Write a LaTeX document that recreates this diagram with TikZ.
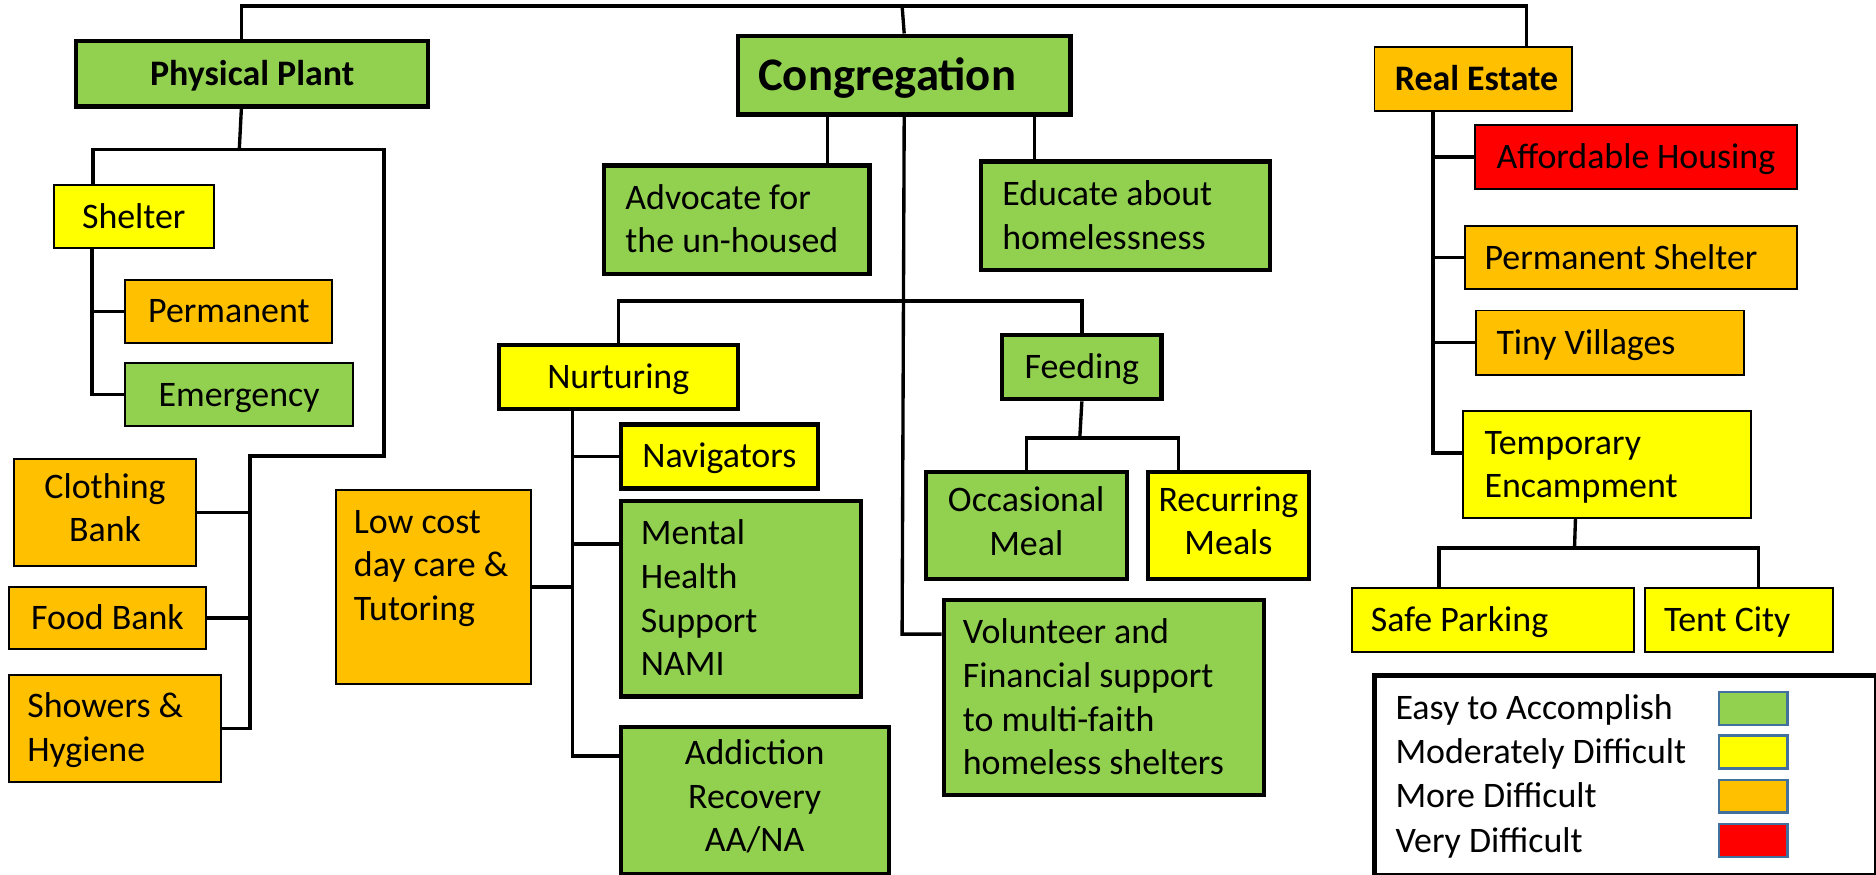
\documentclass[tikz,border=0pt]{standalone}
\usepackage{fontspec}
\setmainfont{Carlito}
\usetikzlibrary{calc}

\definecolor{easy}{HTML}{92D050}
\definecolor{moderate}{HTML}{FFFF00}
\definecolor{harder}{HTML}{FFC000}
\definecolor{hardest}{HTML}{FF0000}
\definecolor{swatch}{HTML}{41719C}

\newcommand{\tstrut}{\rule[-0.267em]{0pt}{1.177em}}

\begin{document}
\begin{tikzpicture}[
        x=1pt, y=-1pt, line width=2.8pt,
        box/.style={draw, anchor=north west, inner sep=0pt, line width=1.6pt,
            font=\fontsize{30}{36.5}\selectfont, align=center,
            execute at begin node=\tstrut},
        heavy/.style={line width=3.5pt},
        title/.style={font=\fontsize{30}{36.5}\selectfont\bfseries},
        wh/.style n args={2}{minimum width=#1pt, minimum height=#2pt},
        lefttext/.style n args={2}{align=flush left, inner xsep=#1pt, text width=#2pt},
    ]

    \useasboundingbox (0,0) rectangle (1568,731);

    \node[box, heavy, title, fill=easy, wh={294}{54.6}] (pp) at (62,32.6) {Physical Plant};
    \node[box, heavy, fill=easy, wh={278}{66}, lefttext={17}{244},
          font=\fontsize{39}{47}\selectfont\bfseries] (cong) at (615,28) {Congregation};
    \node[box, title, fill=harder, wh={165}{53}, lefttext={17}{131}] (re) at (1148,38.7) {\mbox{Real Estate}};

    \node[box, fill=moderate, wh={134}{52.7}] (shelter) at (44,153.8) {Shelter};
    \node[box, fill=harder, wh={173}{52.8}] (perm) at (104,233) {Permanent};
    \node[box, fill=easy, wh={190}{52.6}] (emerg) at (104,302.6) {Emergency};
    \node[box, fill=harder, wh={152}{89}] (clothing) at (11,383) {Clothing\\Bank\tstrut};
    \node[box, fill=harder, wh={164}{52.2}] (food) at (7,489.5) {Food Bank};
    \node[box, fill=harder, wh={177}{89.7}, lefttext={15}{147}] (showers) at (7,563) {Showers~\&\\Hygiene\tstrut};
    \node[box, fill=harder, wh={163}{162.2}, lefttext={15}{133}] (lowcost) at (280,408.8) {Low~cost\\day~care~\&\\Tutoring\\\tstrut};

    \node[box, heavy, fill=easy, wh={222}{90.4}, lefttext={18}{186}] (advocate) at (503,136.6) {Advocate~for\\the~un-housed\tstrut};
    \node[box, heavy, fill=easy, wh={242}{90.5}, lefttext={18}{206}] (educate) at (818,133.3) {Educate~about\\homelessness\tstrut};
    \node[box, heavy, fill=moderate, wh={200}{53.6}] (nurt) at (415,286.7) {Nurturing};
    \node[box, heavy, fill=easy, wh={133}{53.7}] (feed) at (836,278.3) {Feeding};
    \node[box, heavy, fill=easy, wh={168}{90}] (occasional) at (772,392.5) {Occasional\\Meal\tstrut};
    \node[box, heavy, fill=moderate, wh={134}{90}] (recurring) at (958,392.5) {Recurring\\Meals\tstrut};
    \node[box, heavy, fill=easy, wh={268}{163}, lefttext={16}{236}] (volunteer) at (787,500)
        {Volunteer~and\\Financial~support\\to~multi-faith\\homeless~shelters\tstrut};
    \node[box, heavy, fill=moderate, wh={165}{53.5}] (nav) at (517,353) {Navigators};
    \node[box, heavy, fill=easy, wh={201}{163.6}, lefttext={17}{167}] (mental) at (517,416.8) {Mental\\Health\\Support\\NAMI\tstrut};
    \node[box, heavy, fill=easy, wh={224}{122.5}] (addiction) at (517,606) {Addiction\\Recovery\\AA/NA\tstrut};

    \node[box, fill=hardest, wh={269}{53}, lefttext={18}{233}] (afford) at (1232,104) {Affordable~Housing};
    \node[box, fill=harder, wh={277}{53}, lefttext={16}{245}] (permshelter) at (1224,188) {Permanent~Shelter};
    \node[box, fill=harder, wh={224}{53.6}, lefttext={17}{190}] (tiny) at (1233,258.7) {Tiny~Villages};
    \node[box, fill=moderate, wh={241}{89.3}, lefttext={18}{205}] (temp) at (1222,342.7) {Temporary\\Encampment\tstrut};
    \node[box, fill=moderate, wh={236}{53.6}, lefttext={16}{204}] (safe) at (1129,490.4) {Safe~Parking};
    \node[box, fill=moderate, wh={157}{53.6}, lefttext={16}{125}] (tent) at (1374,490.4) {Tent~City};

    \node[draw, line width=4pt, anchor=north west, inner sep=0pt, wh={419}{167.3}] (legend) at (1147,562.7) {};
    \foreach \txt/\col/\y in {Easy to Accomplish/easy/592, Moderately Difficult/moderate/628.5,
                              More Difficult/harder/665.5, Very Difficult/hardest/702.5} {
        \node[anchor=west, inner sep=0pt, font=\fontsize{30}{36.5}\selectfont,
              execute at begin node=\tstrut] (key-\col) at (1165,\y) {\txt};
        \node[draw=swatch, line width=2pt, fill=\col, inner sep=0pt, wh={57}{27.5}] (swatch-\col) at (1465.5,\y) {};
    }

    \coordinate (rail) at (754,5);
    \draw ([xshift=-9pt]pp.north) |- (rail) -| ([xshift=44.5pt]re.north);
    \draw (rail) -- (cong.north);

    \coordinate (ppfork) at (200,125);
    \coordinate (ppcorner) at (321,125);
    \coordinate (ppstep) at (321,381);
    \coordinate (pptrunk) at (209,381);
    \draw ([xshift=-9pt]pp.south) -- (ppfork);
    \draw ([xshift=-34pt]shelter.north) |- (ppcorner) -- (ppstep) -- (pptrunk) |- (showers.east);
    \draw (clothing.east) -- (clothing.east -| pptrunk);
    \draw (food.east) -- (food.east -| pptrunk);

    \coordinate (shelterrail) at ([xshift=-35pt]shelter.south);
    \draw (shelterrail) |- (emerg.west);
    \draw (perm.west) -- (perm.west -| shelterrail);

    \draw ([xshift=-64pt]cong.south) -- ([xshift=76pt]advocate.north);
    \draw ([xshift=109pt]cong.south) -- ([xshift=-76pt]educate.north);
    \coordinate (carefork) at (754,251.7);
    \coordinate (volbend) at (754,530);
    \draw (cong.south) -- (volbend) -- (volbend -| volunteer.west);
    \draw (nurt.north) |- (carefork) -| (feed.north);

    \coordinate (mealfork) at (902.5,366);
    \draw (feed.south) -- (mealfork);
    \draw (occasional.north) |- (mealfork) -| ([xshift=-42pt]recurring.north);

    \coordinate (nurtrail) at ([xshift=-38pt]nurt.south);
    \draw (nurtrail) |- ([yshift=-26pt]addiction.north west);
    \draw (nav.west) -- (nav.west -| nurtrail);
    \coordinate (mentaltap) at ([yshift=-38pt]mental.north west);
    \draw (mentaltap) -- (mentaltap -| nurtrail);
    \draw (lowcost.east) -- (lowcost.east -| nurtrail);

    \coordinate (retrunk) at ([xshift=-33.5pt]re.south);
    \draw (retrunk) |- ([yshift=-36pt]temp.north west);
    \foreach \n in {afford, permshelter, tiny}
        \draw (\n.west) -- (\n.west -| retrunk);

    \coordinate (campfork) at (1316,458);
    \draw ([xshift=-26.5pt]temp.south) -- (campfork);
    \draw ([xshift=-45pt]safe.north) |- (campfork) -| ([xshift=16.5pt]tent.north);

\end{tikzpicture}
\end{document}
